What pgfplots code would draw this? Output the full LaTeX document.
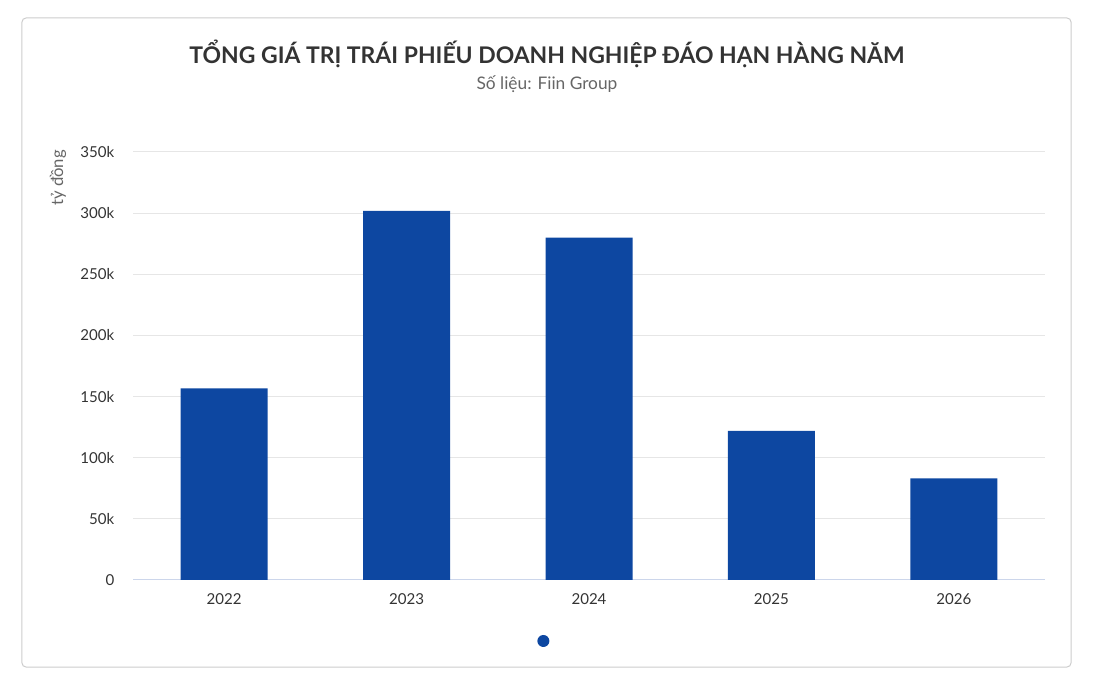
\documentclass[border=0pt]{standalone}
\usepackage{pgfplots}
\pgfplotsset{compat=1.18}
\usepackage{fontspec}
\setmainfont{Lato}
\definecolor{barblue}{HTML}{0D47A1}
\definecolor{gridgray}{HTML}{E6E6E6}
\definecolor{basegray}{HTML}{CCD6EB}
\definecolor{txtdark}{HTML}{333333}
\definecolor{txtgray}{HTML}{666666}

\pgfplotstableread{
x year value
0 2022 156700
1 2023 301800
2 2024 280000
3 2025 122000
4 2026 83100
}\maturity

\begin{document}
\begin{tikzpicture}
% 1 px of the reference = 0.75pt; origin = lower left of the plot area
\useasboundingbox ({-133*0.75pt},{-104*0.75pt}) rectangle ({961*0.75pt},{580*0.75pt});
\draw[color=black!20, line width=0.75pt, rounded corners=3pt]
  ({-111*0.75pt},{-87*0.75pt}) rectangle ({938*0.75pt},{562*0.75pt});
\node[text=txtdark, font=\fontsize{17.2}{20}\selectfont\bfseries] at ({414*0.75pt},{526*0.75pt})
  {TỔNG GIÁ TRỊ TRÁI PHIẾU DOANH NGHIỆP ĐÁO HẠN HÀNG NĂM};
\node[text=txtgray, font=\fontsize{13}{15}\selectfont] at ({414*0.75pt},{496*0.75pt})
  {Số liệu: Fiin Group};
\node[text=txtgray, rotate=90, font=\fontsize{12.5}{14}\selectfont] at ({-75*0.75pt},{402*0.75pt})
  {tỷ đồng};

\begin{axis}[
  at={(0,0)}, anchor=south west,
  scale only axis,
  width={912*0.75pt}, height={428*0.75pt},
  ybar, bar width={87*0.75pt}, bar shift=0pt,
  xmin=-0.5, xmax=4.5,
  ymin=0, ymax=350000,
  xtick=data,
  xticklabels={2022,2023,2024,2025,2026},
  ytick={0,50000,100000,150000,200000,250000,300000,350000},
  yticklabels={0,50k,100k,150k,200k,250k,300k,350k},
  scaled y ticks=false,
  axis x line*=bottom, axis y line*=left,
  x axis line style={draw=basegray, line width=0.75pt, -},
  y axis line style={draw=none},
  major tick length=0pt,
  ymajorgrids, grid style={draw=gridgray, line width=0.75pt},
  tick label style={text=txtdark, font=\fontsize{11.3}{13}\selectfont},
  yticklabel style={xshift=-10.5pt},
  xticklabel style={yshift=-7pt},
  legend style={at={(0.4529,-0.1425)}, anchor=center, draw=none, fill=none,
    inner sep=0pt, outer sep=0pt},
  legend image code/.code={\fill[barblue] (0.3cm,0cm) circle (4.5pt);},
]
\addplot[fill=barblue, draw=none] table[x=x, y=value] {\maturity};
\addlegendentry{}
\end{axis}
\end{tikzpicture}
\end{document}
